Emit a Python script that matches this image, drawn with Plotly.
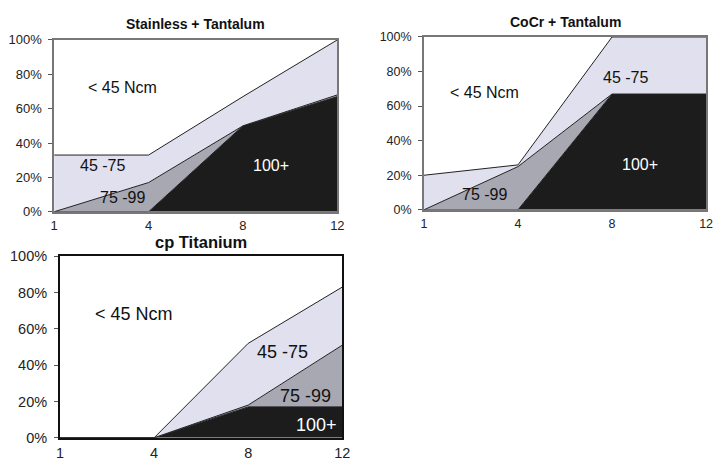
import plotly.graph_objects as go

weeks = ["1", "4", "8", "12"]
series_names = ["100+", "75 -99", "45 -75", "< 45 Ncm"]

# Stainless + Tantalum (% per torque class, bottom to top)
ss_100 = [0, 0, 50, 67]
ss_75_99 = [0, 17, 0, 1]
ss_45_75 = [33, 16, 17, 32]
ss_lt45 = [67, 67, 33, 0]

# CoCr + Tantalum
cocr_100 = [0, 0, 67, 67]
cocr_75_99 = [0, 25, 0, 0]
cocr_45_75 = [20, 1, 33, 33]
cocr_lt45 = [80, 74, 0, 0]

# cp Titanium
ti_100 = [0, 0, 17, 17]
ti_75_99 = [0, 0, 1, 34]
ti_45_75 = [0, 0, 34, 32]
ti_lt45 = [100, 100, 48, 17]

titles = ["Stainless + Tantalum", "CoCr + Tantalum", "cp Titanium"]
yticks = [0, 20, 40, 60, 80, 100]
yticktext = ["0%", "20%", "40%", "60%", "80%", "100%"]

colors = ["#1c1c1c", "#a8a8b2", "#e0e0ee", "rgba(255,255,255,0)"]

panels = [
    (ss_100, ss_75_99, ss_45_75, ss_lt45),
    (cocr_100, cocr_75_99, cocr_45_75, cocr_lt45),
    (ti_100, ti_75_99, ti_45_75, ti_lt45),
]

fig = go.Figure()
W, H = 721, 467
for i, data in enumerate(panels):
    suf = "" if i == 0 else str(i + 1)
    for name, vals, col in zip(series_names, data, colors):
        fig.add_trace(go.Scatter(
            x=weeks, y=vals, name=name, stackgroup="g%d" % i,
            mode="lines", line=dict(color="#222222" if col != colors[3] else "rgba(0,0,0,0)", width=1),
            fillcolor=col, xaxis="x" + suf, yaxis="y" + suf, showlegend=False,
            hoverinfo="skip"))

# domains (pixel-derived)
doms = [
    ((51, 339), (33, 211)),
    ((427, 714), (30, 209)),
    ((57, 344), (257, 445)),
]
tick_sizes = [13, 12.5, 14.5]
title_sizes = [14, 14, 16.5]
title_y = [17, 15, 242]
label_sizes = [16, 16, 18]
x_standoff = [1, 1, 1]

font = "Liberation Sans, Arial, sans-serif"
layout = dict(width=W, height=H, margin=dict(l=0, r=0, t=0, b=0),
              paper_bgcolor="white", plot_bgcolor="white", showlegend=False)
annotations = []
for i, ((x0, x1), (yt, yb)) in enumerate(doms):
    suf = "" if i == 0 else str(i + 1)
    border = "#111111" if i == 2 else "#777777"
    bw = 2 if i == 2 else 1.5
    layout["xaxis" + suf] = dict(
        domain=[x0 / W, x1 / W], anchor="y" + suf, type="category",
        range=[0, 3], showgrid=False, zeroline=False, showline=True,
        linecolor=border, linewidth=bw, mirror=True, ticks="",
        ticklabelstandoff=x_standoff[i],
        tickfont=dict(family=font, size=tick_sizes[i], color="#222"))
    layout["yaxis" + suf] = dict(
        domain=[1 - yb / H, 1 - yt / H], anchor="x" + suf, range=[0, 100],
        tickvals=yticks, ticktext=yticktext, showgrid=False, zeroline=False,
        showline=True, linecolor=border, linewidth=bw, mirror=True,
        ticks="outside", ticklen=4, tickcolor="#555", ticklabelstandoff=4,
        tickfont=dict(family=font, size=tick_sizes[i], color="#222"))
    annotations.append(dict(
        text="<b>%s</b>" % titles[i], xref="paper", yref="paper",
        x=(x0 + x1) / 2 / W, y=1 - title_y[i] / H, xanchor="center",
        yanchor="middle", showarrow=False,
        font=dict(family=font, size=title_sizes[i], color="#111")))

labels = [
    [("< 45 Ncm", 0.72, 72, "#111"), ("45 -75", 0.51, 27, "#111"),
     ("75 -99", 0.72, 8.5, "#111"), ("100+", 2.3, 27, "white")],
    [("< 45 Ncm", 0.64, 68, "#111"), ("45 -75", 2.14, 76.5, "#111"),
     ("75 -99", 0.64, 9, "#111"), ("100+", 2.3, 26, "white")],
    [("< 45 Ncm", 0.79, 68, "#111"), ("45 -75", 2.36, 47, "#111"),
     ("75 -99", 2.61, 23, "#111"), ("100+", 2.73, 7, "white")],
]
for i, labs in enumerate(labels):
    suf = "" if i == 0 else str(i + 1)
    for t, x, y, c in labs:
        annotations.append(dict(text=t, x=x, y=y, xref="x" + suf, yref="y" + suf,
                                xanchor="center", yanchor="middle",
                                showarrow=False,
                                font=dict(family=font, size=label_sizes[i], color=c)))
layout["annotations"] = annotations
fig.update_layout(**layout)
fig.write_html("out.html")
